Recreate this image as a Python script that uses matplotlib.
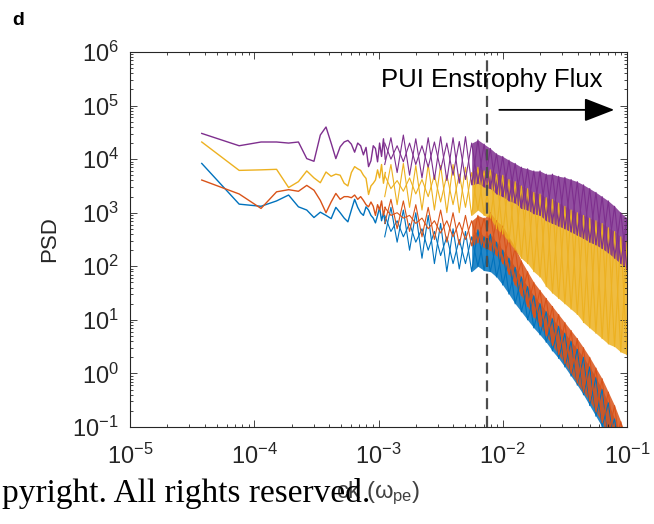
import numpy as np
import matplotlib
matplotlib.use("Agg")
import matplotlib.pyplot as plt

plt.rcParams['font.family'] = ['Liberation Sans', 'DejaVu Sans']
plt.rcParams['mathtext.fontset'] = 'custom'
plt.rcParams['mathtext.rm'] = 'Liberation Sans'
plt.rcParams['mathtext.it'] = 'Liberation Sans:italic'
plt.rcParams['mathtext.default'] = 'regular'

# spectral resolution and the first FFT bins (drawn as separate lines)
f0 = 3.78e-5
bins = [1, 2, 3, 4, 5, 6, 7, 8, 9, 10, 11, 12, 13, 14, 15,
        16, 17, 18, 19, 20, 21, 22, 23, 24, 25, 26, 27, 28, 29, 30]

# log10(PSD) at those bins
blue_low = [3.92, 3.16, 3.12, 3.22, 3.33, 3.11, 3.05, 2.91, 3.01, 2.95, 2.89, 3.10, 3.00, 2.90, 2.83,
            3.05, 3.25, 3.10, 3.00, 2.95, 3.11, 3.05, 2.95, 2.90, 2.81, 2.95, 3.10, 2.85, 3.00, 2.80]
orange_low = [3.61, 3.35, 3.08, 3.39, 3.43, 3.40, 3.51, 3.42, 3.23, 3.00, 3.20, 3.36, 3.25, 3.30, 3.30,
              3.28, 3.33, 3.25, 3.30, 3.23, 3.15, 3.11, 3.20, 3.12, 2.95, 3.15, 3.05, 3.22, 2.95, 3.10]
yellow_low = [4.32, 3.79, 3.80, 3.81, 3.47, 3.58, 3.78, 3.65, 3.56, 3.76, 3.68, 3.72, 3.70, 3.55, 3.50,
              3.75, 3.86, 3.82, 3.79, 3.70, 3.64, 3.34, 3.50, 3.55, 3.61, 3.80, 3.65, 3.90, 3.55, 3.75]
purple_low = [4.48, 4.25, 4.32, 4.32, 4.30, 4.32, 4.01, 3.96, 4.45, 4.60, 4.30, 4.01, 4.23, 4.32, 4.35,
              4.28, 4.13, 4.30, 4.25, 4.08, 4.22, 3.86, 3.97, 4.25, 4.20, 3.95, 4.30, 4.05, 4.38, 4.00]

# noisy part at higher frequency: log10 f, and upper / lower extent of log10(PSD)
band_logf = [-2.95, -2.90, -2.85, -2.80, -2.75, -2.70, -2.65, -2.60, -2.55, -2.50,
             -2.45, -2.40, -2.35, -2.30, -2.25, -2.20, -2.15, -2.10, -2.05, -2.00,
             -1.95, -1.90, -1.85, -1.80, -1.75, -1.70, -1.65, -1.60, -1.55, -1.50,
             -1.45, -1.40, -1.35, -1.30, -1.25, -1.20, -1.15, -1.10, -1.05, -1.00]

blue_hi = [2.95, 3.10, 2.85, 3.05, 2.80, 3.00, 2.70, 2.95, 2.65, 2.80,
           2.55, 2.70, 2.50, 2.65, 2.55, 2.68, 2.55, 2.60, 2.45, 2.30,
           2.15, 1.98, 1.80, 1.62, 1.45, 1.30, 1.15, 1.02, 0.88, 0.75,
           0.60, 0.45, 0.30, 0.12, -0.08, -0.30, -0.55, -0.85, -1.20, -1.50]
blue_lo = [2.55, 2.65, 2.45, 2.55, 2.30, 2.45, 2.15, 2.30, 2.05, 2.20,
           1.90, 2.05, 1.95, 2.05, 1.90, 2.00, 1.92, 1.90, 1.80, 1.65,
           1.48, 1.30, 1.15, 1.00, 0.85, 0.72, 0.58, 0.42, 0.28, 0.12,
           -0.05, -0.22, -0.40, -0.60, -0.80, -1.00, -1.20, -1.40, -1.60, -1.70]

orange_hi = [3.10, 3.25, 3.00, 3.22, 2.95, 3.15, 2.90, 3.10, 2.85, 3.05,
             2.85, 3.00, 2.82, 2.95, 2.85, 2.95, 2.90, 3.00, 2.85, 2.75,
             2.55, 2.35, 2.10, 1.90, 1.70, 1.55, 1.40, 1.25, 1.10, 0.95,
             0.80, 0.65, 0.48, 0.30, 0.10, -0.10, -0.35, -0.60, -0.90, -1.20]
orange_lo = [2.80, 2.95, 2.70, 2.90, 2.65, 2.80, 2.55, 2.70, 2.50, 2.62,
             2.45, 2.55, 2.40, 2.50, 2.38, 2.45, 2.35, 2.30, 2.20, 2.05,
             1.85, 1.65, 1.45, 1.25, 1.05, 0.88, 0.70, 0.52, 0.35, 0.18,
             0.00, -0.18, -0.35, -0.52, -0.72, -0.92, -1.15, -1.35, -1.50, -1.60]

yellow_hi = [3.70, 3.90, 3.60, 3.92, 3.65, 3.88, 3.62, 3.90, 3.70, 3.88,
             3.70, 3.90, 3.72, 3.85, 3.75, 3.85, 3.78, 3.80, 3.72, 3.70,
             3.62, 3.58, 3.50, 3.45, 3.38, 3.35, 3.28, 3.25, 3.18, 3.12,
             3.05, 3.00, 2.95, 2.90, 2.85, 2.80, 2.72, 2.65, 2.55, 2.45]
yellow_lo = [3.30, 3.45, 3.15, 3.40, 3.10, 3.35, 3.05, 3.30, 3.05, 3.20,
             3.00, 3.15, 3.00, 3.10, 2.95, 3.05, 2.95, 2.90, 2.70, 2.60,
             2.45, 2.30, 2.15, 2.05, 1.90, 1.80, 1.62, 1.50, 1.40, 1.30,
             1.20, 1.10, 0.95, 0.85, 0.75, 0.65, 0.55, 0.50, 0.40, 0.35]

purple_hi = [4.30, 4.40, 4.25, 4.45, 4.30, 4.38, 4.25, 4.40, 4.32, 4.42,
             4.30, 4.40, 4.33, 4.42, 4.30, 4.36, 4.28, 4.20, 4.10, 4.05,
             3.98, 3.92, 3.85, 3.82, 3.78, 3.78, 3.72, 3.72, 3.68, 3.66,
             3.62, 3.58, 3.52, 3.45, 3.38, 3.30, 3.22, 3.12, 3.00, 2.90]
purple_lo = [3.90, 4.00, 3.75, 3.95, 3.70, 3.90, 3.65, 3.85, 3.62, 3.80,
             3.60, 3.70, 3.55, 3.62, 3.52, 3.55, 3.48, 3.45, 3.35, 3.30,
             3.22, 3.18, 3.08, 3.05, 2.98, 2.95, 2.85, 2.80, 2.75, 2.70,
             2.64, 2.58, 2.52, 2.45, 2.40, 2.33, 2.25, 2.15, 2.05, 1.95]

colors = ['#0072BD', '#D95319', '#EDB120', '#7E2F8E']
series = [(blue_low, blue_hi, blue_lo),
          (orange_low, orange_hi, orange_lo),
          (yellow_low, yellow_hi, yellow_lo),
          (purple_low, purple_hi, purple_lo)]

f_cut = 7.46e-3  # dashed line

fig = plt.figure(figsize=(6.54, 5.24), dpi=100)
ax = fig.add_axes([130/654, 1 - 427/524, 497/654, 375/524])

f_low = f0 * np.array(bins)
f_band = 10 ** np.array(band_logf)
for (low, hi, lo), c in zip(series, colors):
    hi = np.array(hi)
    lo = np.array(lo)
    ax.plot(f_low, 10 ** np.array(low), color=c, lw=1.0)
    # the trace becomes a dense band past ~6e-3
    ax.fill_between(f_band, 10 ** lo, 10 ** hi, where=f_band >= 10 ** -2.25,
                    color=c, lw=0, alpha=0.85)
    even = np.arange(len(hi)) % 2 == 0
    ax.plot(f_band, 10 ** np.where(even, hi, lo), color=c, lw=0.8)
    ax.plot(f_band, 10 ** np.where(even, lo, hi), color=c, lw=0.8)

ax.axvline(f_cut, color='#4d4d4d', lw=1.6, ls=(0, (5, 3)))

ax.set_xscale('log')
ax.set_yscale('log')
ax.set_xlim(1e-5, 1e-1)
ax.set_ylim(1e-1, 1e6)
ax.set_xticks([1e-5, 1e-4, 1e-3, 1e-2, 1e-1])
ax.set_yticks([1e-1, 1e0, 1e1, 1e2, 1e3, 1e4, 1e5, 1e6])

ax.tick_params(which='both', direction='in', top=True, right=True,
               colors='#262626', labelsize=17, width=0.6)
ax.tick_params(which='major', length=5)
ax.tick_params(which='minor', length=2.5)
ax.tick_params(axis='x', pad=12)
ax.tick_params(axis='y', pad=8)
for s in ax.spines.values():
    s.set_color('#262626')
    s.set_linewidth(0.8)

ax.set_ylabel('PSD', fontsize=16, color='#262626', labelpad=9)
ax.set_xlabel(r'ck ($\omega_{pe}$)', fontsize=17, color='#404040', labelpad=8)

ax.text(10 ** -2.98, 10 ** 5.48, 'PUI Enstrophy Flux', fontsize=18.5, va='center', ha='left')
ax.annotate('', xy=(10 ** -1.08, 10 ** 4.92), xytext=(10 ** -2.05, 10 ** 4.92),
            arrowprops=dict(arrowstyle='-|>,head_length=0.85,head_width=0.33',
                            mutation_scale=22, color='black', lw=1.3))

fig.text(12/654, 1 - 25/524, 'd', fontsize=14, fontweight='bold', va='baseline')
fig.text(2/654, 1 - 502/524, 'pyright. All rights reserved.', fontsize=24,
         family=['Liberation Serif'], color='black', va='baseline')

fig.savefig('out.png', dpi=100)
